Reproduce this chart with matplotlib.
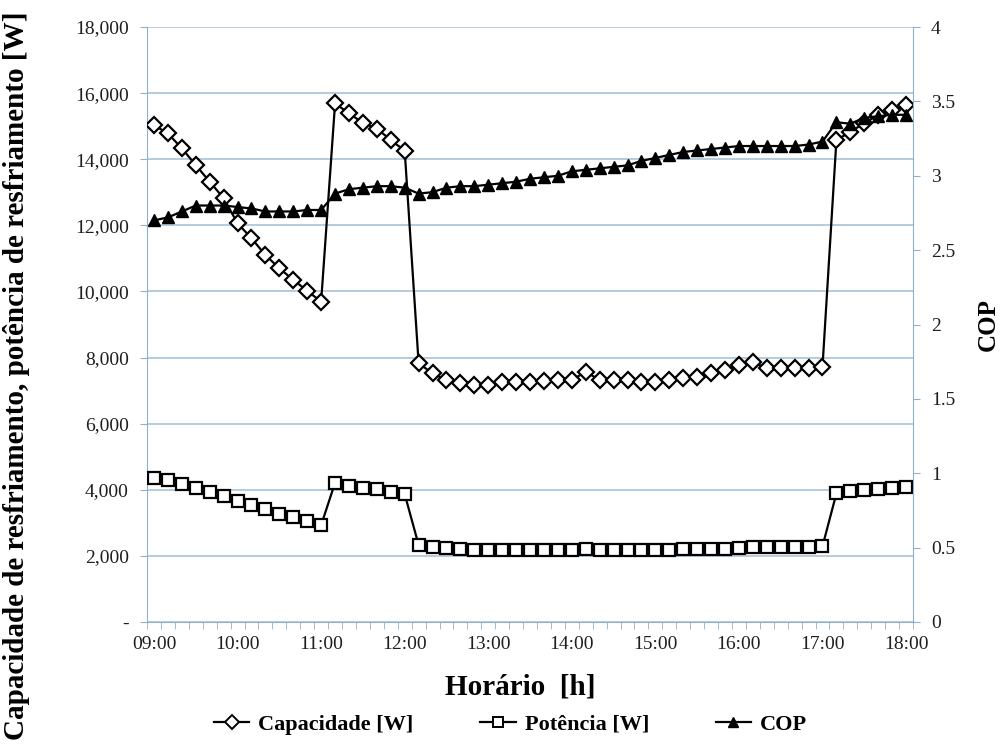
# plot.py
# Capacidade, potencia e COP ao longo do dia (09:00 - 18:00)

import matplotlib
matplotlib.use('Agg')
import matplotlib.pyplot as plt
from matplotlib.lines import Line2D
from matplotlib.ticker import FuncFormatter, MultipleLocator

# hour labels shown on the x axis (one every 6 samples of 10 min)
hour_labels = ['09:00', '10:00', '11:00', '12:00', '13:00',
               '14:00', '15:00', '16:00', '17:00', '18:00']

# Capacidade de resfriamento [W], one value per 10 min sample
capacidade = [15030, 14780, 14330, 13820, 13320, 12820, 12060, 11610, 11100, 10700,
              10350, 10020, 9690,
              15690, 15390, 15100, 14930, 14580, 14260,
              7830, 7520, 7320, 7220, 7170, 7170, 7270, 7270, 7270, 7300,
              7320, 7320, 7570, 7320, 7320, 7320, 7270, 7270, 7320, 7370,
              7420, 7520, 7620, 7760, 7870,
              7670, 7670, 7670, 7670, 7720,
              14580, 14830, 15090, 15340, 15490, 15640]

# Potencia [W]
potencia = [4350, 4300, 4180, 4060, 3940, 3810, 3670, 3540, 3410, 3270,
            3170, 3040, 2930,
            4210, 4110, 4040, 4010, 3940, 3870,
            2330, 2260, 2230, 2200, 2180,
            2180, 2180, 2180, 2180, 2180, 2190, 2190, 2220, 2190, 2190,
            2190, 2190, 2190, 2190, 2200, 2200, 2210, 2220, 2250, 2270,
            2270, 2270, 2280, 2280, 2290,
            3890, 3960, 3990, 4020, 4040, 4090]

# COP (right axis)
cop = [2.70, 2.72, 2.76, 2.80, 2.80, 2.80, 2.79, 2.78, 2.76, 2.76,
       2.76, 2.77, 2.77,
       2.88, 2.91, 2.92, 2.93, 2.93, 2.92, 2.88, 2.89, 2.92, 2.93,
       2.93, 2.94, 2.95, 2.96, 2.98,
       2.99, 3.00, 3.03, 3.04, 3.05, 3.06, 3.07, 3.10, 3.12, 3.14,
       3.16, 3.17, 3.18, 3.19, 3.20, 3.20,
       3.20, 3.20, 3.20, 3.21, 3.23,
       3.36, 3.35, 3.39, 3.40, 3.41, 3.41]

GRID = '#a9c3d8'
SPINE = '#8eb0ca'
TXT = '#1e1e1e'
FONT = 'Liberation Serif'


def left_fmt(v, pos):
    """Excel style thousands format, zero shown as a dash."""
    if abs(v) < 1e-9:
        return '-'
    return '{:,.0f}'.format(v)


def right_fmt(v, pos):
    """COP labels without trailing zeros."""
    return '{:g}'.format(v)


def style_axes(ax, ax2, n):
    """Limits, ticks, grid and spines."""
    ax.set_xlim(-0.5, n - 0.5)
    ax.set_ylim(0, 18000)
    ax2.set_ylim(0, 4)

    ax.yaxis.set_major_locator(MultipleLocator(2000))
    ax.yaxis.set_major_formatter(FuncFormatter(left_fmt))
    ax2.yaxis.set_major_locator(MultipleLocator(0.5))
    ax2.yaxis.set_major_formatter(FuncFormatter(right_fmt))

    ax.set_xticks(list(range(0, n, 6)))
    ax.set_xticklabels(hour_labels)
    ax.set_xticks([i - 0.5 for i in range(n + 1)], minor=True)
    ax.tick_params(axis='x', which='major', length=0, pad=10)
    ax.tick_params(axis='x', which='minor', length=5, color=SPINE, direction='out')
    ax.tick_params(axis='y', length=5, color=SPINE, pad=8)
    ax2.tick_params(axis='y', length=5, color=SPINE, pad=8)

    for a in (ax, ax2):
        for lab in a.get_xticklabels() + a.get_yticklabels():
            lab.set_fontfamily(FONT)
            lab.set_fontsize(14)
            lab.set_color(TXT)
        for s in a.spines.values():
            s.set_visible(False)
    ax.spines['left'].set_visible(True)
    ax.spines['left'].set_color(SPINE)
    ax.spines['bottom'].set_visible(True)
    ax.spines['bottom'].set_color(SPINE)
    ax2.spines['right'].set_visible(True)
    ax2.spines['right'].set_color(SPINE)

    ax.grid(axis='y', color=GRID, linewidth=1.2)
    ax.set_axisbelow(True)


def create_plot():
    """Draw the chart and save it as out.png."""
    fig = plt.figure(figsize=(10.01, 7.51), dpi=100)
    ax = fig.add_axes([0.1469, 0.1718, 0.7652, 0.7922])
    ax2 = ax.twinx()

    x = list(range(len(capacidade)))
    ax.plot(x, capacidade, color='black', linewidth=1.6, marker='D', markersize=8,
            markerfacecolor='white', markeredgecolor='black', markeredgewidth=1.6,
            zorder=3)
    ax.plot(x, potencia, color='black', linewidth=1.6, marker='s', markersize=8,
            markerfacecolor='white', markeredgecolor='black', markeredgewidth=1.6,
            zorder=3)
    ax2.plot(x, cop, color='black', linewidth=1.6, marker='^', markersize=8,
             markerfacecolor='black', markeredgecolor='black', zorder=3)

    style_axes(ax, ax2, len(x))

    fig.text(0.016, 0.5, 'Capacidade de resfriamento, potência de resfriamento [W]',
             rotation=90, ha='center', va='center', family=FONT,
             fontsize=21, fontweight='bold')
    fig.text(0.987, 0.568, 'COP', rotation=90, ha='center', va='center',
             family=FONT, fontsize=18, fontweight='bold')
    fig.text(0.52, 0.085, 'Horário  [h]', ha='center', va='center',
             family=FONT, fontsize=21, fontweight='bold')

    handles = [
        Line2D([], [], color='black', linewidth=1.6, marker='D', markersize=7,
               markerfacecolor='white', markeredgewidth=1.4),
        Line2D([], [], color='black', linewidth=1.6, marker='s', markersize=7,
               markerfacecolor='white', markeredgewidth=1.4),
        Line2D([], [], color='black', linewidth=1.6, marker='^', markersize=7,
               markerfacecolor='black'),
    ]
    fig.legend(handles, ['Capacidade [W]', 'Potência [W]', 'COP'],
               loc='lower center', bbox_to_anchor=(0.51, -0.005), ncol=3,
               frameon=False, handlelength=1.6, columnspacing=3.0,
               handletextpad=0.4,
               prop={'family': FONT, 'size': 16, 'weight': 'bold'})

    fig.savefig('out.png', dpi=100)


def main():
    create_plot()


if __name__ == '__main__':
    main()
